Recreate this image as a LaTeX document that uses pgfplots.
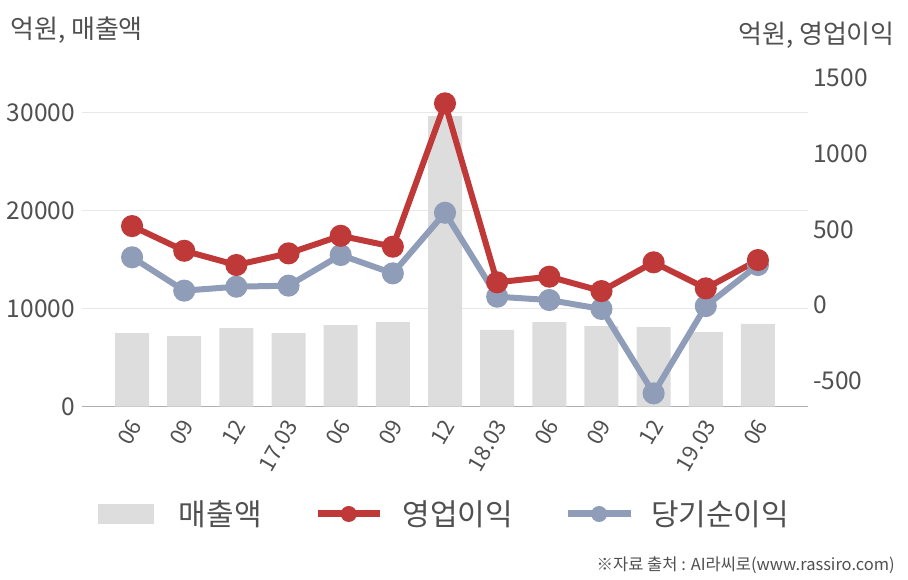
\documentclass[border=0pt]{standalone}
\usepackage{fontspec}
\setmainfont{Noto Sans CJK KR}
\usepackage{pgfplots}
\pgfplotsset{compat=1.18}
\definecolor{barc}{RGB}{221,221,221}
\definecolor{redc}{RGB}{192,57,57}
\definecolor{bluec}{RGB}{143,157,185}
\definecolor{txt}{RGB}{80,80,80}
\definecolor{gridc}{RGB}{232,232,232}
\definecolor{axc}{RGB}{175,175,175}
\begin{document}
\begin{tikzpicture}
\path[use as bounding box] (0pt,0pt) rectangle (908pt,-580pt);
\begin{axis}[
  at={(82pt,-406.7pt)}, anchor=south west,
  width=726pt, height=333.2pt, scale only axis,
  xmin=-0.96, xmax=12.96, ymin=0, ymax=34000,
  axis x line*=bottom, axis y line*=left,
  y axis line style={draw=none},
  x axis line style={axc, line width=1.3pt},
  major tick length=0pt,
  ymajorgrids, grid style={gridc, line width=1pt},
  ytick={0,10000,20000,30000},
  scaled y ticks=false,
  /pgf/number format/1000 sep={},
  /pgf/number format/assume math mode=true,
  yticklabel style={font=\fontsize{24.5}{24.5}\selectfont, text=txt, inner sep=0pt, xshift=-7pt},
  xtick={0,1,2,3,4,5,6,7,8,9,10,11,12},
  xticklabels={06,09,12,17.03,06,09,12,18.03,06,09,12,19.03,06},
  xticklabel style={font=\fontsize{22}{22}\selectfont, text=txt, xshift=10.6pt, yshift=-18.6pt, rotate=60, anchor=base east, inner sep=0pt},
  clip=false,
]
\addplot[ybar, bar width=34pt, fill=barc, draw=none] coordinates {
(0,7520) (1,7210) (2,8030) (3,7520) (4,8330) (5,8640) (6,29660)
(7,7830) (8,8640) (9,8230) (10,8130) (11,7620) (12,8440)};
\end{axis}
\begin{axis}[
  at={(82pt,-406.7pt)}, anchor=south west,
  width=726pt, height=333.2pt, scale only axis,
  xmin=-0.96, xmax=12.96, ymin=-671, ymax=1528,
  axis x line=none, axis y line*=right,
  y axis line style={draw=none},
  major tick length=0pt,
  ytick={-500,0,500,1000,1500},
  /pgf/number format/1000 sep={},
  /pgf/number format/assume math mode=true,
  yticklabel style={font=\fontsize{24.5}{24.5}\selectfont, text=txt, inner sep=0pt, xshift=5pt},
  clip=false,
  legend columns=3,
  legend style={at={(0.498,-0.322)}, anchor=center, draw=none, fill=none,
    inner sep=0pt, font=\fontsize{30}{30}\selectfont, text=txt,
    nodes={inner sep=0pt, anchor=west}, column sep=0pt},
]
\addlegendimage{legend image code/.code={
  \path[draw=none,fill=none] (0,0) -- (81pt,0);
  \fill[barc, draw=none] (0,-10pt) rectangle (56pt,10pt);}}
\addlegendentry{매출액}
\addlegendimage{legend image code/.code={
  \path[draw=none,fill=none] (-56pt,0) -- (85pt,0);
  \path[draw=redc, line width=7pt, fill=none] (0,0) -- (62pt,0);
  \path[fill=redc, draw=none] (31pt,0) circle (8pt);}}
\addlegendentry{영업이익}
\addlegendimage{legend image code/.code={
  \path[draw=none,fill=none] (-55pt,0) -- (83pt,0);
  \path[draw=bluec, line width=7pt, fill=none] (0,0) -- (63pt,0);
  \path[fill=bluec, draw=none] (31pt,0) circle (8pt);}}
\addlegendentry{당기순이익}
\addplot[forget plot, bluec, line width=6pt, mark=*, mark size=8pt, mark options={fill=bluec, draw=none}]
coordinates {
(0,315) (1,95) (2,121) (3,128) (4,330) (5,209) (6,609)
(7,55) (8,33) (9,-26) (10,-583) (11,-7) (12,264)};
\addplot[forget plot, redc, line width=6pt, mark=*, mark size=8pt, mark options={fill=redc, draw=none}]
coordinates {
(0,521) (1,358) (2,264) (3,341) (4,457) (5,385) (6,1331)
(7,150) (8,187) (9,92) (10,282) (11,110) (12,297)};
\end{axis}
\node[anchor=west, text=txt, font=\fontsize{26}{26}\selectfont, inner sep=0pt] at (10pt,-30pt) {억원, 매출액};
\node[anchor=east, text=txt, font=\fontsize{26}{26}\selectfont, inner sep=0pt] at (895pt,-35pt) {억원, 영업이익};
\node[anchor=east, text=txt, font=\fontsize{16.5}{16.5}\selectfont, inner sep=0pt] at (895pt,-565pt) {※자료 출처 : AI라씨로(www.rassiro.com)};
\end{tikzpicture}
\end{document}
